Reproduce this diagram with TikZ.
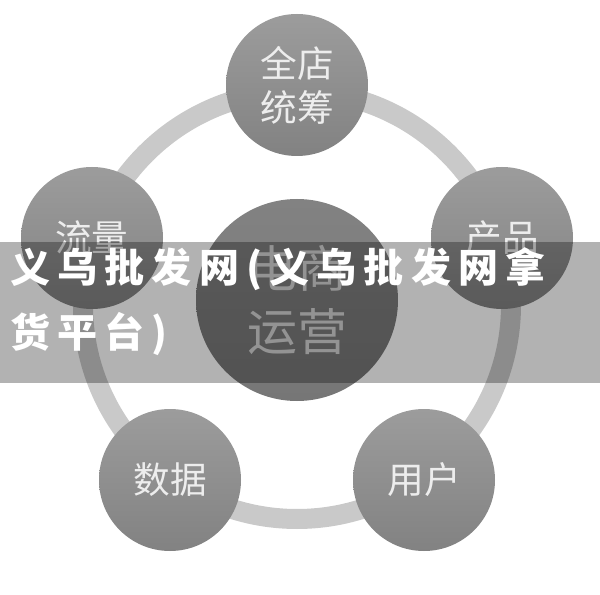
\documentclass[tikz,border=0pt]{standalone}
\usepackage{fontspec}
\newfontfamily\cjk{Noto Sans CJK SC}
\newfontfamily\bannerfont[LetterSpace=18]{Noto Sans CJK SC}
\definecolor{ringgray}{HTML}{C9C9C9}
\definecolor{dotlight}{HTML}{9C9C9C}
\definecolor{dotdark}{HTML}{828282}
\definecolor{hublight}{HTML}{828282}
\definecolor{hubdark}{HTML}{767676}
\definecolor{dottext}{HTML}{EDEDED}
\definecolor{hubtext}{HTML}{D4D4D4}

\begin{document}
\begin{tikzpicture}[x=0.75pt,y=-0.75pt,
	dot/.style={circle, minimum size=106.5pt, inner sep=0pt, top color=dotlight, bottom color=dotdark, text=dottext, align=center, font=\cjk\fontsize{27.5}{33}\selectfont},
	hub/.style={circle, minimum size=151.5pt, inner sep=0pt, top color=hublight, bottom color=hubdark, text=hubtext, align=center, font=\cjk\fontsize{37.5}{47}\selectfont},
	bannertext/.style={anchor=base west, inner sep=0pt, text=white, font=\bannerfont\bfseries\fontsize{30}{36}\selectfont}]
	\useasboundingbox (0,0) rectangle (600,595);
	
	\coordinate (ringc) at (297,305);
	\draw[ringgray, line width=15pt] (ringc) circle[radius=214];
	
	\node[hub] (yunying) at (297,300) {电商\\运营};
	
	\node[dot] (quandian) at (297,85) {全店\\统筹};
	\node[dot] (chanpin) at (502,238) {产品};
	\node[dot] (yonghu) at (424,480) {用户};
	\node[dot] (shuju) at (170,480) {数据};
	\node[dot] (liuliang) at (92,238) {流量};
	
	% banner on top
	\fill[black, opacity=0.3] (0,242) rectangle (600,383);
	\node[bannertext] (title) at (10,283) {义乌批发网(义乌批发网拿};
	\node[bannertext] (subtitle) at (10,348) {货平台)};
	
\end{tikzpicture}
\end{document}
